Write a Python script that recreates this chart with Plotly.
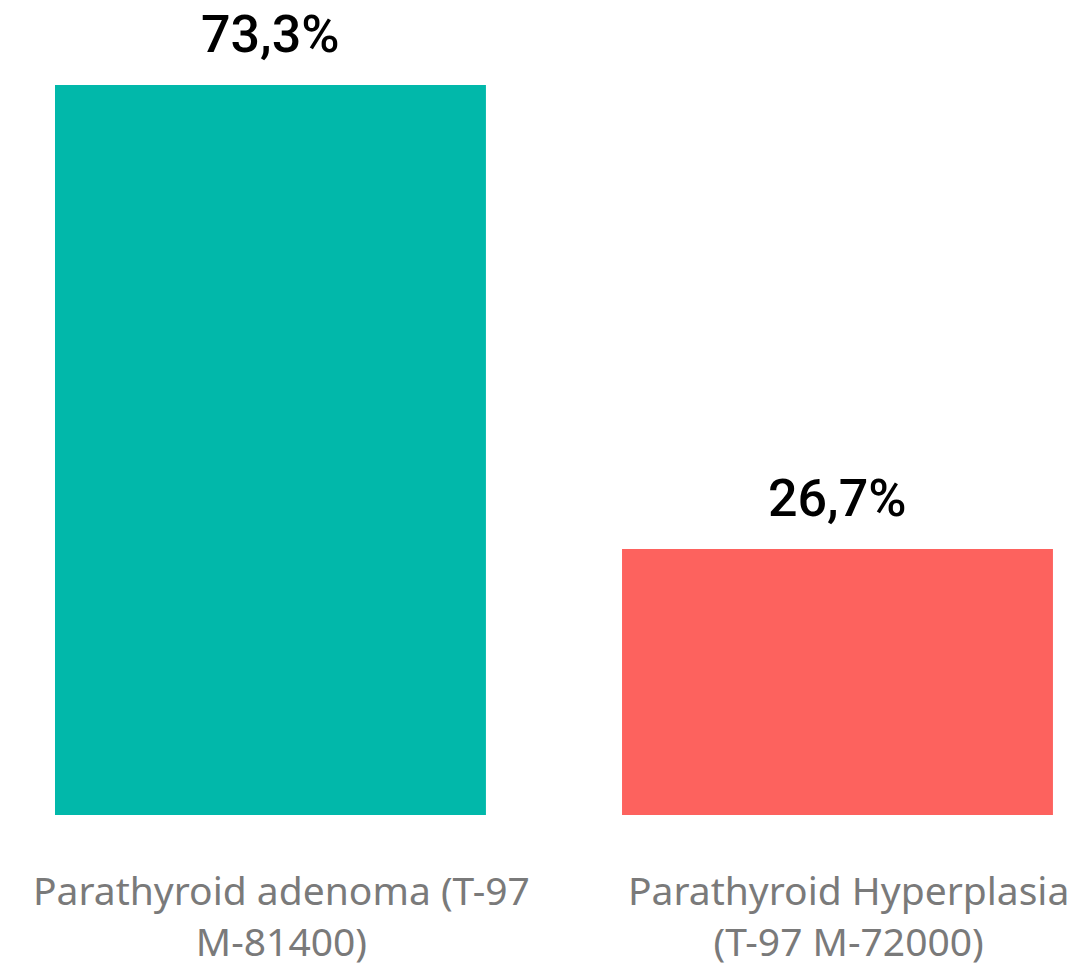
import plotly.graph_objects as go

categories = ["Parathyroid adenoma (T-97<br>M-81400)",
              "Parathyroid Hyperplasia<br>(T-97 M-72000)"]
percent = [73.3, 26.7]
value_labels = ["73,3%", "26,7%"]
bar_colors = ["#01B8AA", "#FD625E"]

x_pos = list(range(len(categories)))

fig = go.Figure()
fig.add_trace(go.Bar(
    x=x_pos, y=percent, width=0.76,
    marker=dict(color=bar_colors, line=dict(width=0)),
    hoverinfo="skip",
))

# value labels above each bar
for xi, v, t in zip(x_pos, percent, value_labels):
    fig.add_annotation(x=xi, y=v, text=t, showarrow=False,
                       yanchor="bottom", yshift=18,
                       font=dict(family="Roboto", size=52, weight=500,
                                 color="#000000"))

# category labels under the axis
for xi, c in zip(x_pos, categories):
    fig.add_annotation(x=xi, xref="x", y=0, yref="paper", text=c,
                       showarrow=False, yanchor="top", yshift=-47,
                       xshift=11, borderpad=0, align="center",
                       font=dict(family="Noto Sans", size=39, color="#7A7A7A"))

fig.update_layout(
    width=1072, height=974,
    margin=dict(l=0, r=0, t=0, b=159),
    paper_bgcolor="white", plot_bgcolor="white",
    showlegend=False,
    xaxis=dict(range=[-0.477, 1.4136], showticklabels=False,
               showgrid=False, zeroline=False, showline=False, ticks=""),
    yaxis=dict(range=[0, 81.83], visible=False, showgrid=False, zeroline=False),
)

fig.write_html("out.html")
